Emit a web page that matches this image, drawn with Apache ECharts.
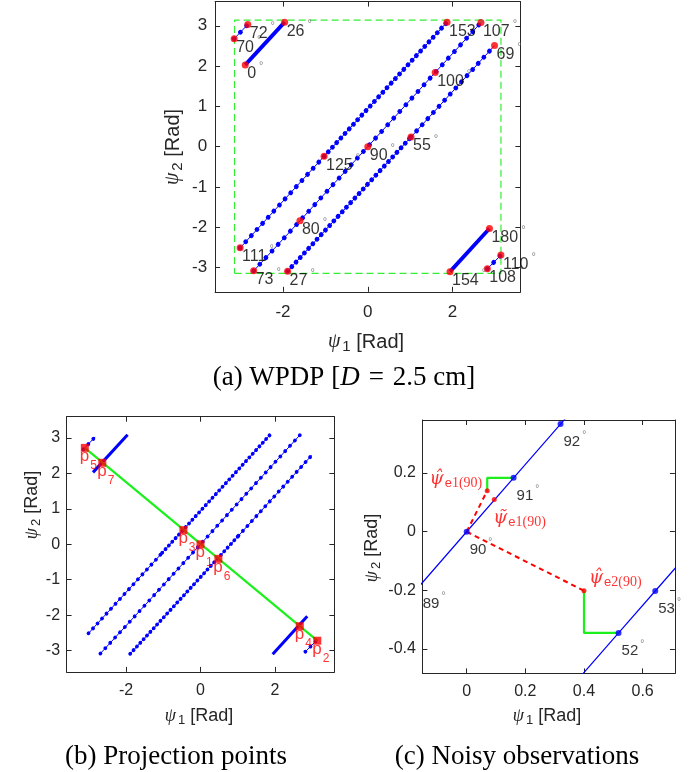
<!DOCTYPE html>
<html><head><meta charset="utf-8">
<script src="https://cdn.jsdelivr.net/npm/echarts@6/dist/echarts.min.js"></script>
<style>html,body{margin:0;padding:0;background:#fff}#c{width:694px;height:772px}</style>
</head><body><div id="c"></div><script>
// ===================== DATA =====================
// Panel (a)/(b): WPDP manifold segments, points [psi1, psi2] in rad
const segLine111to125 = [[-3.01,-2.51],[-1.03,-0.24]];
const segLine125to153 = [[-1.03,-0.24],[1.87,3.09]];
const segLine73to107  = [[-2.69,-3.08],[-1.60,-1.84],[0,0],[1.59,1.84],[2.67,3.08]];
const segLine27to55   = [[-1.89,-3.09],[1.02,0.24]];
const segLine55to69   = [[1.02,0.24],[2.99,2.51]];
const segShort70to72  = [[-3.15,2.68],[-2.83,3.03]];
const segShort108to110= [[2.82,-3.03],[3.14,-2.69]];
const segThick0to26   = [[-2.89,2.03],[-1.96,3.09]];
const segThick154to180= [[1.94,-3.10],[2.87,-2.03]];
// wrap boundary (green dashed box)
const wrapLo = -3.1416, wrapHi = 3.1416;

// Panel (a): labelled angles (degrees) and their phase differences
const aAngles = [0, 26, 70, 72, 153, 107, 69, 100, 55, 90, 125, 111, 80, 73, 27, 154, 108, 110, 180];
const aPsi1   = [-2.89,-1.96,-3.15,-2.83, 1.87, 2.67, 2.99, 1.59, 1.02, 0.00,-1.03,-3.01,-1.60,-2.69,-1.89, 1.94, 2.82, 3.14, 2.87];
const aPsi2   = [ 2.03, 3.09, 2.68, 3.03, 3.09, 3.08, 2.51, 1.84, 0.24, 0.00,-0.24,-2.51,-1.84,-3.08,-3.09,-3.10,-3.03,-2.69,-2.03];

// Panel (b): projection points p1..p7
const projNames = ['1','2','3','4','5','6','7'];
const projPsi1  = [0.00, 3.14,-0.46, 2.67,-3.11, 0.48,-2.64];
const projPsi2  = [0.00,-2.72, 0.40,-2.31, 2.72,-0.41, 2.30];

// Panel (c): manifold samples (degrees) near 90 and 52
const cAngles = [89, 90, 91, 92, 52, 53];
const cPsi1   = [-0.160, 0.000, 0.160, 0.320, 0.518, 0.643];
const cPsi2   = [-0.184, 0.000, 0.184, 0.367,-0.345,-0.202];
const cLineNear90 = [[-0.160,-0.184],[0,0],[0.160,0.184],[0.320,0.367],[0.480,0.551]];
const cLineNear52 = [[0.393,-0.488],[0.518,-0.345],[0.643,-0.202],[0.768,-0.059]];
// noisy observations / estimates
const estKeys = ['hat1','tilde1','hat2'];
const estPsi1 = [0.070, 0.094, 0.400];
const estPsi2 = [0.140, 0.110,-0.201];
const dashFromTrue = [[[0,0],[0.070,0.140]], [[0,0],[0.400,-0.201]]];
const greenPaths   = [[[0.070,0.140],[0.070,0.184],[0.160,0.184]], [[0.400,-0.201],[0.400,-0.345],[0.518,-0.345]]];

// Tick values
const ticksA = [-3,-2,-1,0,1,2,3], ticksAx = [-2,0,2];
const ticksCx = [0,0.2,0.4,0.6], ticksCy = [-0.4,-0.2,0,0.2];

// ===================== STYLE =====================
const BLUE = '#0000ff', RED = '#ff0000', GREEN = '#1cf01c', AX = '#262626';
const SANS = 'Liberation Sans', SERIF = 'Liberation Serif';

function ax(g, pos, min, max, ticks, fs, margin, show) {
  return {type:'value', gridIndex:g, position:pos, min:min, max:max,
    axisLine:{show:true, onZero:false, lineStyle:{color:AX, width:1}},
    axisTick:{show:true, inside:true, length:5, customValues:ticks, lineStyle:{color:AX, width:1}},
    axisLabel:{show:show, customValues:ticks, fontSize:fs, color:AX, fontFamily:SANS, margin:margin},
    splitLine:{show:false}};
}
const xAxes = [
  ax(0,'bottom',-3.6,3.6,ticksAx,17,12,true), ax(0,'top',-3.6,3.6,ticksAx,17,12,false),
  ax(1,'bottom',-3.6,3.6,ticksAx,16,11,true), ax(1,'top',-3.6,3.6,ticksAx,16,11,false),
  ax(2,'bottom',-0.151,0.71,ticksCx,16,10,true), ax(2,'top',-0.151,0.71,ticksCx,16,10,false)];
const yAxes = [
  ax(0,'left',-3.6,3.6,ticksA,17,8,true), ax(0,'right',-3.6,3.6,ticksA,17,8,false),
  ax(1,'left',-3.6,3.6,ticksA,16,6.5,true), ax(1,'right',-3.6,3.6,ticksA,16,6.5,false),
  ax(2,'left',-0.483,0.381,ticksCy,16,6.5,true), ax(2,'right',-0.483,0.381,ticksCy,16,6.5,false)];

const series = [];
function base(g, z){ return {xAxisIndex:2*g, yAxisIndex:2*g, animation:false, silent:true, z:z||2}; }
function dotted(g, data, dot, gap) {
  series.push(Object.assign(base(g), {type:'line', data:data, symbol:'none', lineStyle:{color:BLUE, width:1}}));
  series.push(Object.assign(base(g), {type:'line', data:data, symbol:'none',
    lineStyle:{color:BLUE, width:dot, type:[0.01, gap], cap:'round'}}));
}
function thick(g, data, w) {
  series.push(Object.assign(base(g), {type:'line', data:data, symbol:'none', lineStyle:{color:BLUE, width:w, cap:'butt'}}));
}

// ---- Panel (a) ----
const boxPath = [[wrapLo,wrapLo],[wrapHi,wrapLo],[wrapHi,wrapHi],[wrapLo,wrapHi],[wrapLo,wrapLo]];
series.push(Object.assign(base(0), {type:'line', data:boxPath, symbol:'none', lineStyle:{color:'#33ee33', width:1.2, type:[7,4]}}));
function manifold(g, s) {
  dotted(g, segLine111to125, 4.8*s, 8.3*s);
  dotted(g, segLine125to153, 4.8*s, 6.2*s);
  dotted(g, segLine73to107, 4.8*s, 9.0*s);
  dotted(g, segLine27to55, 4.8*s, 6.2*s);
  dotted(g, segLine55to69, 4.8*s, 8.3*s);
  dotted(g, segShort70to72, 4.8*s, 9.0*s);
  dotted(g, segShort108to110, 4.8*s, 9.0*s);
  thick(g, segThick0to26, 3.8*s);
  thick(g, segThick154to180, 3.8*s);
}
manifold(0, 1);
series.push(Object.assign(base(0, 10), {type:'scatter', symbol:'circle', symbolSize:7, itemStyle:{color:RED},
  data: aAngles.map((a,i)=>[aPsi1[i], aPsi2[i], a]),
  label:{show:true, position:'inside', align:'left', verticalAlign:'middle', offset:[2,9],
    formatter: p => '{n|' + p.value[2] + '}{d|°}',
    rich:{n:{fontSize:16, fontFamily:SANS, color:'#000', lineHeight:26},
          d:{fontSize:11, fontFamily:SANS, color:'#666', lineHeight:11, verticalAlign:'top', padding:[0,0,0,3]}}}}));

// ---- Panel (b) ----
manifold(1, 0.8);
series.push(Object.assign(base(1, 5), {type:'line', data:[[projPsi1[4],projPsi2[4]],[projPsi1[1],projPsi2[1]]], symbol:'none',
  lineStyle:{color:GREEN, width:2.2}}));
series.push(Object.assign(base(1, 10), {type:'scatter', symbol:'rect', symbolSize:8, itemStyle:{color:RED},
  data: projNames.map((n,i)=>[projPsi1[i], projPsi2[i], n]),
  label:{show:true, position:'inside', align:'left', verticalAlign:'top', offset:[-5,0],
    formatter: p => '{p|p}{s|' + p.value[2] + '}',
    rich:{p:{fontSize:17, fontFamily:SANS, color:RED, lineHeight:18, verticalAlign:'top'},
          s:{fontSize:12, fontFamily:SANS, color:RED, lineHeight:12, verticalAlign:'top', padding:[12,0,0,1]}}}}));

// ---- Panel (c) ----
series.push(Object.assign(base(2), {type:'line', data:cLineNear90, symbol:'none', clip:true, lineStyle:{color:BLUE, width:1.2}}));
series.push(Object.assign(base(2), {type:'line', data:cLineNear52, symbol:'none', clip:true, lineStyle:{color:BLUE, width:1.2}}));
greenPaths.forEach(d => series.push(Object.assign(base(2, 4), {type:'line', data:d, symbol:'none', lineStyle:{color:GREEN, width:2.2}})));
dashFromTrue.forEach(d => series.push(Object.assign(base(2, 4), {type:'line', data:d, symbol:'none', lineStyle:{color:RED, width:2, type:[5,4]}})));
series.push(Object.assign(base(2, 6), {type:'scatter', symbolSize:6, clip:true, itemStyle:{color:BLUE},
  data: cAngles.map((a,i)=>[cPsi1[i], cPsi2[i]])}));
series.push(Object.assign(base(2, 7), {type:'scatter', symbolSize:5, itemStyle:{color:RED},
  data: estKeys.map((k,i)=>[estPsi1[i], estPsi2[i]])}));
series.push(Object.assign(base(2, 8), {type:'scatter', symbolSize:0, clip:false,
  data: cAngles.map((a,i)=>[cPsi1[i], cPsi2[i], a]),
  label:{show:true, position:'inside', align:'left', verticalAlign:'middle', offset:[3,18],
    formatter: p => '{n|' + p.value[2] + '}{d|°}',
    rich:{n:{fontSize:15, fontFamily:SANS, color:'#000', lineHeight:24},
          d:{fontSize:10, fontFamily:SANS, color:'#666', lineHeight:10, verticalAlign:'top', padding:[0,0,0,2]}}}}));
const estRich = {
  h:{fontSize:18, fontFamily:'DejaVu Serif', fontStyle:'italic', color:RED, lineHeight:24},
  e:{fontSize:13, fontFamily:SANS, color:RED, lineHeight:13, padding:[8,0,0,1]},
  t:{fontSize:14, fontFamily:SERIF, color:RED, lineHeight:14, padding:[7,0,0,0]}};
const estLabel = {
  hat1:  {txt:'{h|ψ\u0302}{e|e}{t|1(90)}', align:'right', offset:[-5,-11]},
  tilde1:{txt:'{h|ψ\u0303}{e|e}{t|1(90)}', align:'left',  offset:[-1,19]},
  hat2:  {txt:'{h|ψ\u0302}{e|e}{t|2(90)}', align:'left',  offset:[5,-12]}};
series.push(Object.assign(base(2, 9), {type:'scatter', symbolSize:0, clip:false,
  data: estKeys.map((k,i)=>({value:[estPsi1[i], estPsi2[i]],
    label:{align:estLabel[k].align, offset:estLabel[k].offset, formatter:estLabel[k].txt}})),
  label:{show:true, position:'inside', verticalAlign:'middle', rich:estRich}}));

// ---- titles / captions ----
function tRich(fs, sfs, sp) {
  return {p:{fontFamily:SERIF, fontStyle:'italic', fontSize:fs, fill:AX, lineHeight:fs+4},
          s:{fontFamily:SANS, fontSize:sfs, fill:AX, lineHeight:sfs, padding:[sp,0,0,2]},
          r:{fontFamily:SANS, fontSize:fs, fill:AX, lineHeight:fs+4}};
}
function title(x, y, sub, fs, sfs, sp, rot) {
  return {type:'text', x:x, y:y, rotation: rot ? Math.PI/2 : 0, silent:true,
    style:{text:'{p|ψ}{s|' + sub + '}{r| [Rad]}', rich:tRich(fs, sfs, sp), align:'center', verticalAlign:'middle'}};
}
function caption(x, y, txt) {
  return {type:'text', x:x, y:y, silent:true,
    style:{text:txt, align:'center', verticalAlign:'middle',
      rich:{r:{fontFamily:SERIF, fontSize:27, fill:'#000'}, i:{fontFamily:SERIF, fontStyle:'italic', fontSize:27, fill:'#000'}}}};
}
const graphic = [
  title(366, 342, '1', 20, 15, 10, false),
  title(173, 147, '2', 20, 15, 10, true),
  title(199, 716, '1', 18, 13, 9, false),
  title(32, 505, '2', 18, 13, 9, true),
  title(547, 716, '1', 18, 13, 9, false),
  title(372, 548, '2', 18, 13, 9, true),
  caption(344, 378, '{r|(a) WPDP [}{i|D}{r|\u2004=\u20042.5 cm]}'),
  caption(176, 757, '{r|(b) Projection points}'),
  caption(517, 757, '{r|(c) Noisy observations}')
];

const chart = echarts.init(document.getElementById('c'), null, {renderer:'canvas'});
chart.setOption({
  animation:false,
  grid:[
    {left:215.1, top:1.6, width:305.3, height:290.2},
    {left:66.6, top:416.7, width:267.8, height:255.2},
    {left:422.4, top:420, width:252.5, height:253.4}],
  xAxis:xAxes, yAxis:yAxes, series:series, graphic:graphic
});
</script></body></html>
